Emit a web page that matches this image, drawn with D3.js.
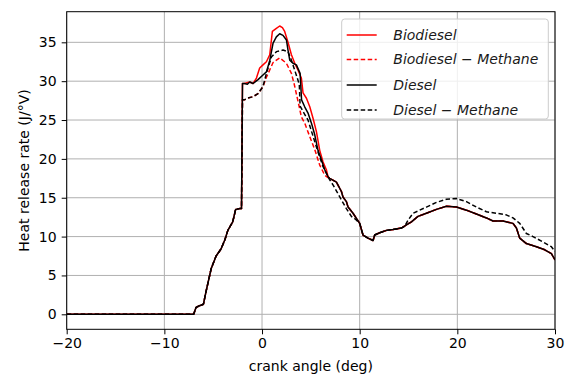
<!DOCTYPE html>
<html><head><meta charset="utf-8">
<script src="https://cdn.jsdelivr.net/npm/d3@7"></script>
<style>
body{margin:0;background:#fff;}
text{font-family:"DejaVu Sans",sans-serif;}
</style></head>
<body><svg id="c" width="570" height="376"></svg>
<script>
// ---- data ----
const seriesNames = ["Biodiesel", "Biodiesel \u2212 Methane", "Diesel", "Diesel \u2212 Methane"];
const xTicks = [-20, -10, 0, 10, 20, 30];
const yTicks = [0, 5, 10, 15, 20, 25, 30, 35];

// shared ignition-delay ramp (all four curves overlap)
const rampX = [-20, -7.0, -6.75, -6.4, -6.0, -5.7, -5.2, -4.7, -4.2, -3.8, -3.5, -3.0, -2.7, -2.3, -2.1];
const rampY = [0, 0, 0.9, 1.1, 1.3, 3.1, 5.9, 7.5, 8.4, 9.6, 10.8, 11.9, 13.5, 13.6, 13.6];

// shared late tail (Biodiesel, Biodiesel-Methane, Diesel overlap)
const tailX = [6.93, 7.62, 8.13, 8.29, 8.64, 8.81, 9.32, 10.0, 10.34, 10.85, 11.37, 11.54, 12.05, 12.74, 13.41, 14.27, 14.79, 15.3, 15.97, 16.83, 17.86, 18.88, 19.91, 20.93, 21.95, 22.98, 23.65, 24.68, 25.7, 26.05, 26.39, 27.07, 28.1, 28.95, 29.63, 30.0];
const tailY = [17.5, 17.0, 15.8, 15.1, 14.5, 13.8, 13.0, 11.7, 10.2, 9.8, 9.5, 10.2, 10.5, 10.8, 10.9, 11.1, 11.5, 11.9, 12.6, 13.0, 13.5, 13.9, 13.8, 13.4, 12.9, 12.4, 12.0, 12.0, 11.7, 11.1, 9.8, 9.1, 8.7, 8.3, 7.8, 7.0];

const bioX = [-2.0, -1.8, -1.26, -0.92, -0.57, -0.24, 0.1, 0.45, 0.79, 1.06, 1.47, 1.81, 2.09, 2.32, 2.66, 3.01, 3.35, 3.69, 4.03, 4.2, 4.55, 4.89, 5.23, 5.57, 5.91, 6.25, 6.59, 6.76];
const bioY = [29.7, 29.7, 29.9, 29.7, 30.4, 31.7, 32.1, 32.5, 33.4, 36.4, 36.8, 37.1, 36.9, 36.4, 35.0, 33.4, 32.3, 31.4, 30.4, 28.5, 27.8, 26.7, 25.2, 23.5, 21.1, 19.6, 18.6, 17.7];

const bioMethX = [-2.0, -1.8, -1.5, -0.92, -0.41, 0.1, 0.45, 1.13, 1.81, 2.5, 3.01, 3.3, 3.69, 4.03, 4.37, 4.88, 5.4, 5.91, 6.42, 6.76];
const bioMethY = [27.6, 27.6, 27.8, 28.0, 28.4, 29.3, 30.5, 32.4, 33.0, 32.3, 31.0, 29.6, 27.4, 25.4, 24.6, 22.9, 21.2, 19.2, 17.9, 17.6];

const dieselX = [-2.0, -1.8, -1.5, -1.26, -0.92, -0.41, 0.1, 0.45, 0.8, 1.13, 1.47, 1.81, 2.15, 2.5, 2.66, 2.84, 3.17, 3.52, 3.9, 4.05, 4.37, 4.71, 5.06, 5.4, 5.73, 6.08, 6.42, 6.76];
const dieselY = [29.7, 29.7, 29.6, 29.9, 29.7, 30.2, 30.8, 31.2, 32.7, 34.9, 35.7, 36.1, 35.9, 35.3, 34.0, 32.7, 32.3, 32.1, 31.0, 27.6, 26.7, 25.9, 24.6, 23.1, 21.1, 19.9, 18.6, 17.7];

const dieselMethX = [-2.0, -1.8, -1.5, -0.92, -0.41, 0.1, 0.45, 0.96, 1.47, 2.15, 2.66, 3.01, 3.35, 3.69, 3.82, 3.9, 4.2, 4.71, 5.23, 5.73, 6.25, 6.93, 7.3, 7.96, 8.64, 9.15, 9.6, 10.0, 10.34, 10.85, 11.37, 11.54, 12.05, 12.74, 13.41, 14.27, 14.6, 14.95, 15.46, 16.14, 16.83, 17.86, 18.88, 19.91, 20.93, 21.95, 22.98, 24.0, 25.0, 25.7, 26.39, 27.07, 27.75, 28.78, 29.63, 30.0];
const dieselMethY = [27.6, 27.6, 27.8, 28.0, 28.4, 29.3, 31.0, 33.1, 33.8, 34.0, 33.8, 32.7, 31.4, 30.1, 29.5, 26.8, 26.1, 25.0, 22.9, 20.9, 19.0, 17.3, 16.6, 15.1, 13.6, 12.6, 12.2, 11.7, 10.2, 9.8, 9.5, 10.2, 10.5, 10.8, 10.9, 11.1, 11.3, 12.1, 13.0, 13.4, 13.8, 14.4, 14.8, 14.9, 14.5, 13.8, 13.2, 13.0, 12.8, 12.4, 11.7, 10.4, 10.0, 9.3, 8.7, 8.1];

const colors = ["#ff0000", "#ff0000", "#000000", "#000000"];
const dashes = [null, "4.5,2.5", null, "4.5,2.5"];

// ---- build ----
const zip = (xs, ys) => xs.map((x, i) => [x, ys[i]]);
const seriesData = [
  zip(rampX.concat(bioX, tailX), rampY.concat(bioY, tailY)),
  zip(rampX.concat(bioMethX, tailX), rampY.concat(bioMethY, tailY)),
  zip(rampX.concat(dieselX, tailX), rampY.concat(dieselY, tailY)),
  zip(rampX.concat(dieselMethX), rampY.concat(dieselMethY))
];

const L = 66.7, R = 555, T = 11.7, B = 329.3;
const x = d3.scaleLinear().domain([-20, 30]).range([L, R]);
const y = d3.scaleLinear().domain([-1.93, 38.94]).range([B, T]);
const svg = d3.select("#c");
const FS = 14;

// grid
const g = svg.append("g");
g.selectAll(".gx").data(xTicks).enter().append("line")
  .attr("x1", d => x(d)).attr("x2", d => x(d)).attr("y1", T).attr("y2", B)
  .attr("stroke", "#b0b0b0").attr("stroke-width", 1);
g.selectAll(".gy").data(yTicks).enter().append("line")
  .attr("y1", d => y(d)).attr("y2", d => y(d)).attr("x1", L).attr("x2", R)
  .attr("stroke", "#b0b0b0").attr("stroke-width", 1);

// lines
svg.append("defs").append("clipPath").attr("id", "clip").append("rect")
  .attr("x", L).attr("y", T).attr("width", R - L).attr("height", B - T);
const line = d3.line().x(d => x(d[0])).y(d => y(d[1]));
const lg = svg.append("g").attr("clip-path", "url(#clip)");
seriesData.forEach((s, i) => {
  lg.append("path").datum(s).attr("d", line).attr("fill", "none")
    .attr("stroke", colors[i]).attr("stroke-width", 1.5)
    .attr("stroke-dasharray", dashes[i]).attr("stroke-linejoin", "round");
});

// axes
const xAxis = d3.axisBottom(x).tickValues(xTicks).tickSize(5).tickPadding(4)
  .tickFormat(d => (d < 0 ? "\u2212" + Math.abs(d) : d));
const yAxis = d3.axisLeft(y).tickValues(yTicks).tickSize(5).tickPadding(5);
const ax = svg.append("g").attr("transform", `translate(0,${B})`).call(xAxis);
const ay = svg.append("g").attr("transform", `translate(${L},0)`).call(yAxis);
[ax, ay].forEach(a => {
  a.select(".domain").remove();
  a.selectAll("line").attr("stroke", "#000").attr("stroke-width", 1);
  a.selectAll("text").attr("fill", "#000").style("font-size", FS + "px").style("font-family", "DejaVu Sans");
});

// frame
svg.append("rect").attr("x", L).attr("y", T).attr("width", R - L).attr("height", B - T)
  .attr("fill", "none").attr("stroke", "#000").attr("stroke-width", 1);

// labels
svg.append("text").attr("x", (L + R) / 2).attr("y", 371).attr("text-anchor", "middle")
  .style("font-size", FS + "px").text("crank angle (deg)");
svg.append("text").attr("transform", `translate(29,${(T + B) / 2}) rotate(-90)`)
  .attr("text-anchor", "middle").style("font-size", FS + "px").text("Heat release rate (J/\u00b0V)");

// legend
const leg = svg.append("g");
leg.append("rect").attr("x", 341.7).attr("y", 19).attr("width", 206.6).attr("height", 100)
  .attr("rx", 3).attr("fill", "#fff").attr("fill-opacity", 0.8).attr("stroke", "#cccccc");
const rows = [35, 59.5, 85, 110];
seriesNames.forEach((n, i) => {
  leg.append("line").attr("x1", 346.7).attr("x2", 376.7).attr("y1", rows[i]).attr("y2", rows[i])
    .attr("stroke", colors[i]).attr("stroke-width", 1.5).attr("stroke-dasharray", dashes[i]);
  leg.append("text").attr("x", 393.3).attr("y", rows[i]).attr("dy", "0.35em")
    .style("font-size", FS + "px").style("font-style", "italic").attr("fill", "#1a1a1a").text(n);
});
</script></body></html>
